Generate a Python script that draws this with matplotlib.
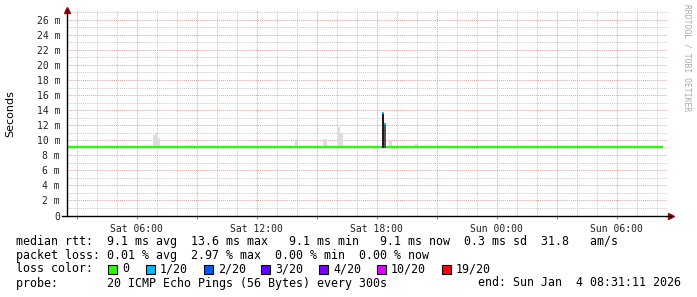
"""
SmokePing style latency graph (30 h), drawn with matplotlib.
"""

import matplotlib
matplotlib.use("Agg")
import matplotlib.pyplot as plt
import matplotlib.dates as mdates
import pandas as pd
from matplotlib.patches import Rectangle
from matplotlib.ticker import FuncFormatter, MultipleLocator

W, H = 697, 297
MONO = "DejaVu Sans Mono"

# --- data (values in ms) ---
t_start = pd.Timestamp("2026-01-03 02:31:11")
t_end = pd.Timestamp("2026-01-04 08:31:11")

# median rtt segments, coloured by loss
seg_start = ["2026-01-03 02:31", "2026-01-03 18:17", "2026-01-03 18:22", "2026-01-03 18:27"]
seg_end = ["2026-01-03 18:17", "2026-01-03 18:22", "2026-01-03 18:27", "2026-01-04 08:20"]
seg_median = [9.1, 13.6, 12.2, 9.1]
seg_loss = ["0", "1/20", "1/20", "0"]

# smoke (spread of the pings above the median)
smoke_start = ["2026-01-03 06:50", "2026-01-03 06:55", "2026-01-03 07:00",
               "2026-01-03 08:40", "2026-01-03 13:55", "2026-01-03 14:00",
               "2026-01-03 15:20", "2026-01-03 15:30", "2026-01-03 16:05",
               "2026-01-03 16:10", "2026-01-03 16:20", "2026-01-03 18:17",
               "2026-01-03 18:22", "2026-01-03 18:37", "2026-01-03 19:55"]
smoke_end = ["2026-01-03 06:55", "2026-01-03 07:00", "2026-01-03 07:10",
             "2026-01-03 08:50", "2026-01-03 14:00", "2026-01-03 14:05",
             "2026-01-03 15:30", "2026-01-03 15:35", "2026-01-03 16:10",
             "2026-01-03 16:20", "2026-01-03 16:25", "2026-01-03 18:22",
             "2026-01-03 18:27", "2026-01-03 18:47", "2026-01-03 20:05"]
smoke_top = [10.75, 11.0, 10.35, 9.4, 10.1, 9.8, 10.1, 9.4, 11.7, 11.0, 9.3,
             13.6, 12.2, 9.9, 9.45]
smoke_shade = ["#dcdcdc"] * 11 + ["#1c1c1c", "#555555", "#dcdcdc", "#dcdcdc"]
smoke_low = 9.0

loss_labels = ["0", "1/20", "2/20", "3/20", "4/20", "10/20", "19/20"]
loss_colors = ["#26ff00", "#00b8ff", "#0059ff", "#5e00ff", "#7e00ff", "#dd00ff", "#ff0000"]
loss_color = dict(zip(loss_labels, loss_colors))

stats_lines = [
    "median rtt:  9.1 ms avg  13.6 ms max   9.1 ms min   9.1 ms now  0.3 ms sd  31.8   am/s",
    "packet loss: 0.01 % avg  2.97 % max  0.00 % min  0.00 % now",
]
probe_text = "probe:       20 ICMP Echo Pings (56 Bytes) every 300s"
end_text = "end: Sun Jan  4 08:31:11 2026"


def fx(x):
    return x / W


def fy(y):
    return 1 - y / H


fig = plt.figure(figsize=(W / 100, H / 100), dpi=100)
fig.patch.set_facecolor("white")
ax = fig.add_axes([fx(67), fy(215.5), 600 / W, 205.5 / H])

# grid
ax.set_xlim(t_start, t_end)
ax.set_ylim(0, 27.3)
ax.yaxis.set_major_locator(MultipleLocator(2))
ax.yaxis.set_minor_locator(MultipleLocator(1))
ax.xaxis.set_major_locator(mdates.HourLocator(byhour=range(0, 24, 3)))
ax.xaxis.set_minor_locator(mdates.HourLocator())
ax.xaxis.set_major_formatter(FuncFormatter(
    lambda v, p: mdates.num2date(v).strftime("%a %H:%M") if mdates.num2date(v).hour % 6 == 0 else ""))
ax.yaxis.set_major_formatter(FuncFormatter(lambda v, p: "0" if v == 0 else f"{v:.0f} m"))

ax.grid(which="minor", color="#c8c8c8", linestyle=(0, (1, 1)), linewidth=0.7)
ax.grid(which="major", color="#e0a0a0", linestyle=(0, (1, 1)), linewidth=0.7)
ax.set_axisbelow(True)

for s in ["top", "right", "bottom", "left"]:
    ax.spines[s].set_visible(False)
ax.tick_params(axis="both", which="both", length=0)
ax.tick_params(axis="x", which="major", length=2, color="#c08080", pad=4)
ax.tick_params(axis="y", pad=5)
for lbl in ax.get_xticklabels() + ax.get_yticklabels():
    lbl.set_family(MONO)
    lbl.set_fontsize(7)
    lbl.set_color("#222222")

# smoke
for a, b, top, c in zip(smoke_start, smoke_end, smoke_top, smoke_shade):
    ax.fill_between([pd.Timestamp(a), pd.Timestamp(b)], smoke_low, top,
                    color=c, linewidth=0, zorder=2)

# median line
for a, b, m, l in zip(seg_start, seg_end, seg_median, seg_loss):
    ax.plot([pd.Timestamp(a), pd.Timestamp(b)], [m, m], color=loss_color[l],
            lw=1.6, solid_capstyle="butt", zorder=3)

# axes with arrows
ax.plot([0, 0], [0, 1.0], transform=ax.transAxes, color="black", lw=1, clip_on=False, zorder=4)
ax.plot([-5 / 600, 1 + 4 / 600], [0, 0], transform=ax.transAxes, color="black", lw=1,
        clip_on=False, zorder=4)
ax.plot([0], [1.0], marker="^", ms=4, color="#a00000", transform=ax.transAxes, clip_on=False)
ax.plot([1 + 4 / 600], [0], marker=">", ms=4, color="#a00000", transform=ax.transAxes,
        clip_on=False)

# labels
fig.text(fx(10), fy(114), "Seconds", rotation=90, ha="center", va="center",
         fontsize=8, family="DejaVu Sans")
fig.text(fx(687), fy(4), "RRDTOOL / TOBI OETIKER", rotation=270, ha="center", va="top",
         fontsize=5.8, family=MONO, color="#aaaaaa")

# legend block
FS = 8.4
for i, line in enumerate(stats_lines):
    fig.text(fx(16), fy(241 + 14 * i), line, ha="left", va="center", fontsize=FS, family=MONO)

fig.text(fx(16), fy(269), "loss color:", ha="left", va="center", fontsize=FS, family=MONO)
box_x = [108, 146, 204, 261, 319, 377, 442]
for bx, lab, col in zip(box_x, loss_labels, loss_colors):
    fig.patches.append(Rectangle((fx(bx), fy(273.5)), 9 / W, 9 / H, transform=fig.transFigure,
                                 facecolor=col, edgecolor="black", linewidth=0.8))
    fig.text(fx(bx + 14), fy(269), lab, ha="left", va="center", fontsize=FS, family=MONO)

fig.text(fx(16), fy(283), probe_text, ha="left", va="center", fontsize=FS, family=MONO)
fig.text(fx(478), fy(283), end_text, ha="left", va="center", fontsize=FS, family=MONO)

plt.savefig("out.png", dpi=100, facecolor="white")
